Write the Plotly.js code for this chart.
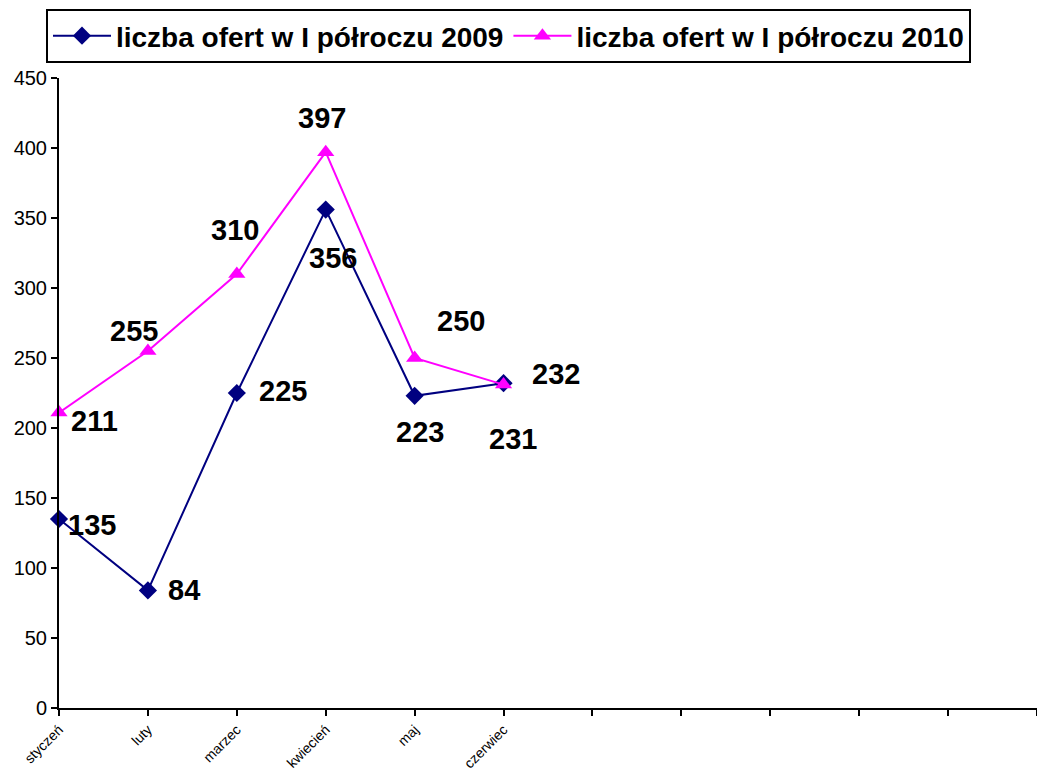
<!DOCTYPE html>
<html>
<head>
<meta charset="utf-8">
<script src="https://cdn.plot.ly/plotly-3.0.1.min.js"></script>
<style>
  html, body { margin: 0; padding: 0; background: #fff; }
  #chart { width: 1037px; height: 774px; }
</style>
</head>
<body>
<div id="chart"></div>
<script>
// ---- data ----
const tickLabels = ['styczeń', 'luty', 'marzec', 'kwiecień', 'maj', 'czerwiec', '', '', '', '', '', ''];
const series2009Name = 'liczba ofert w I półroczu 2009';
const series2010Name = 'liczba ofert w I półroczu 2010';
const values2009 = [135, 84, 225, 356, 223, 232];
const values2010 = [211, 255, 310, 397, 250, 231];

// ---- label placement (style, pixel offsets) ----
const off2009 = [[33, 6], [36, 0], [46, -2], [7, 48], [5, 36], [52, -9]];
const off2010 = [[35, 8], [-14, -20], [-2, -44], [-4, -34], [46, -37], [9, 54]];

const idx = tickLabels.map((_, i) => i);
const x2009 = values2009.map((_, i) => idx[i]);
const x2010 = values2010.map((_, i) => idx[i]);

const FONT = 'Arial, "Liberation Sans", sans-serif';

const traces = [
  {
    type: 'scatter', mode: 'lines+markers', name: series2009Name,
    x: x2009, y: values2009,
    line: { color: '#000080', width: 2 },
    marker: { symbol: 'diamond', size: 14, color: '#000080' },
    cliponaxis: false
  },
  {
    type: 'scatter', mode: 'lines+markers', name: series2010Name,
    x: x2010, y: values2010,
    line: { color: '#FF00FF', width: 2 },
    marker: { symbol: 'triangle-up', size: 15, color: '#FF00FF' },
    cliponaxis: false
  }
];

const annotations = [];
values2009.forEach((v, i) => annotations.push({
  x: x2009[i], y: v, xref: 'x', yref: 'y', text: '<b>' + v + '</b>', showarrow: false,
  xshift: off2009[i][0], yshift: -off2009[i][1],
  font: { family: FONT, size: 29, color: '#000' }
}));
values2010.forEach((v, i) => annotations.push({
  x: x2010[i], y: v, xref: 'x', yref: 'y', text: '<b>' + v + '</b>', showarrow: false,
  xshift: off2010[i][0], yshift: -off2010[i][1],
  font: { family: FONT, size: 29, color: '#000' }
}));

const layout = {
  width: 1037, height: 774,
  margin: { l: 59, r: 0, t: 78, b: 66 },
  paper_bgcolor: '#fff', plot_bgcolor: '#fff',
  font: { family: FONT, color: '#000' },
  showlegend: true,
  legend: {
    orientation: 'h',
    x: -0.0133, xanchor: 'left',
    y: 1.1095, yanchor: 'top',
    bordercolor: '#000', borderwidth: 2, bgcolor: '#fff',
    font: { family: FONT, size: 28, color: '#000', weight: 'bold' },
    itemwidth: 58
  },
  xaxis: {
    type: 'linear', range: [0, 11],
    tickmode: 'array', tickvals: idx, ticktext: tickLabels,
    tickangle: -45, tickfont: { family: FONT, size: 14, color: '#000' },
    ticks: 'outside', ticklen: 6, tickwidth: 2, tickcolor: '#000',
    showline: true, linecolor: '#000', linewidth: 2,
    showgrid: false, zeroline: false, fixedrange: true
  },
  yaxis: {
    range: [0, 450], tickmode: 'linear', tick0: 0, dtick: 50,
    tickfont: { family: FONT, size: 20, color: '#000' },
    ticks: 'outside', ticklen: 6, tickwidth: 2, tickcolor: '#000',
    showline: true, linecolor: '#000', linewidth: 2,
    showgrid: false, zeroline: false, fixedrange: true
  },
  annotations: annotations
};

Plotly.newPlot('chart', traces, layout, { displayModeBar: false, staticPlot: true });
</script>
</body>
</html>
